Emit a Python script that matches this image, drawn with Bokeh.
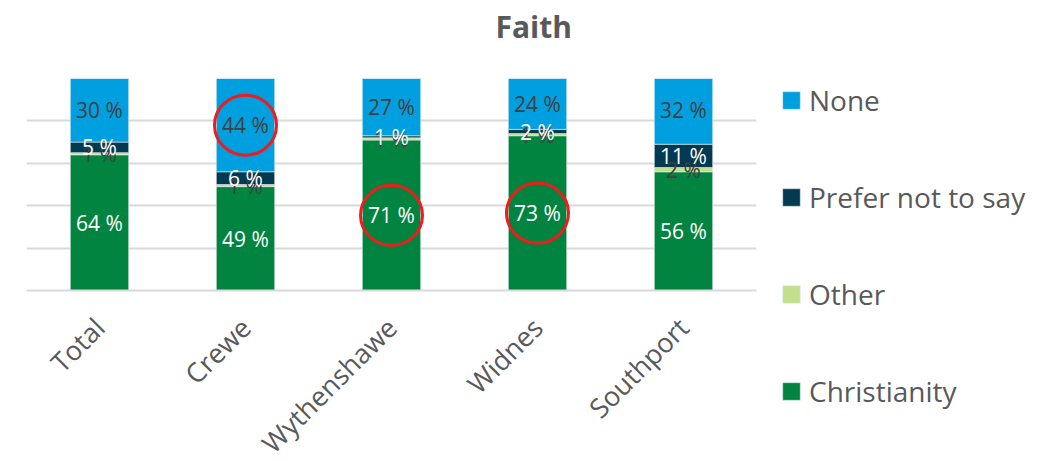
from bokeh.plotting import figure
from bokeh.models import ColumnDataSource, Legend, LegendItem, FixedTicker, Title
from bokeh.core.properties import value
from bokeh.embed import file_html
from bokeh.resources import INLINE
import math

sites = ["Total", "Crewe", "Wythenshawe", "Widnes", "Southport"]
christianity = [64, 49, 71, 73, 56]
other = [1, 1, 1, 1, 2]
prefer_not = [5, 6, 1, 2, 11]
none = [30, 44, 27, 24, 32]
series_names = ["Christianity", "Other", "Prefer not to say", "None"]
colors = ["#00843f", "#c4df8b", "#023a52", "#009fdf"]
label_colors = ["white", "#404040", "white", "#404040"]
highlighted = [("Crewe", "None"), ("Wythenshawe", "Christianity"), ("Widnes", "Christianity")]

FONT = "Open Sans"
GREY = "#595959"

p = figure(x_range=sites, y_range=(0, 100), frame_width=730, frame_height=212,
           output_backend="svg", toolbar_location=None,
           min_border_left=26, min_border_right=270, min_border_top=78, min_border_bottom=160)
p.outline_line_color = None
p.background_fill_color = "white"
p.border_fill_color = "white"

data = {"site": sites, "Christianity": christianity, "Other": other,
        "Prefer not to say": prefer_not, "None": none}
src = ColumnDataSource(data)
renderers = p.vbar_stack(series_names, x="site", width=0.4, color=colors, source=src,
                         line_color="#e6eef0", line_width=0.6)

cum = [0] * len(sites)
label_sets = []
centers = {}
for name, col in zip(series_names, label_colors):
    vals = data[name]
    ys = [c + v / 2 for c, v in zip(cum, vals)]
    cum = [c + v for c, v in zip(cum, vals)]
    centers[name] = ys
    ls = ColumnDataSource(dict(x=sites, y=ys, t=[f"{v} %" for v in vals]))
    label_sets.append((ls, col))

for idx in [3, 1, 0, 2]:
    ls, col = label_sets[idx]
    p.text(x="x", y="y", text="t", source=ls, text_color=col, text_font=value(FONT),
           text_font_size="21px", text_align="center", text_baseline="middle")

hx = [s for s, n in highlighted]
hy = [centers[n][sites.index(s)] for s, n in highlighted]
p.ellipse(x=hx, y=hy, width=62, height=60, width_units="screen", height_units="screen",
          fill_color=None, line_color="#ee1c1c", line_width=3)

p.yaxis.visible = False
p.yaxis.ticker = FixedTicker(ticks=[0, 20, 40, 60, 80, 100])
p.ygrid.ticker = FixedTicker(ticks=[0, 20, 40, 60, 80, 100])
p.ygrid.grid_line_color = "#d9d9d9"
p.ygrid.grid_line_width = 2
p.xgrid.visible = False
p.xaxis.axis_line_color = "#d9d9d9"
p.xaxis.axis_line_width = 2
p.xaxis.major_tick_line_color = None
p.xaxis.minor_tick_line_color = None
p.xaxis.major_label_orientation = math.pi / 4
p.xaxis.major_label_text_font = FONT
p.xaxis.major_label_text_font_size = "27px"
p.xaxis.major_label_text_color = GREY
p.xaxis.major_label_standoff = 26

# spacer (closest to frame) then the actual title above it
spacer = Title(text=" ", text_font=FONT, text_font_size="22px", text_color="white",
               align="left", standoff=0)
p.add_layout(spacer, "above")
t = Title(text="Faith", text_font=FONT, text_font_size="30px", text_font_style="bold",
          text_color=GREY, align="left", offset=469, standoff=0)
p.add_layout(t, "above")

items = [LegendItem(label=name, renderers=[r]) for name, r in zip(series_names, renderers)][::-1]
legend = Legend(items=items, location=(24, -120), orientation="vertical",
                glyph_width=22, glyph_height=22, label_text_font=FONT,
                label_text_font_size="28px", label_text_color=GREY,
                label_height=30, spacing=59, padding=0, margin=0,
                border_line_color=None, background_fill_alpha=0, label_standoff=7)
p.add_layout(legend, "right")

open("out.html", "w").write(file_html(p, INLINE))
